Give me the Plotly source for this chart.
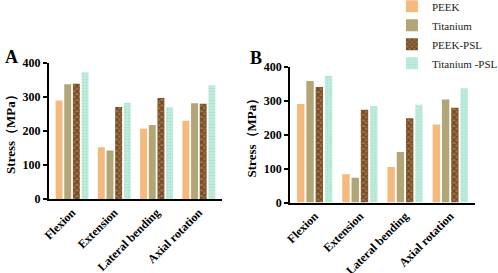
import plotly.graph_objects as go

categories = ["Flexion", "Extension", "Lateral bending", "Axial rotation"]
series_names = ["PEEK", "Titanium", "PEEK-PSL", "Titanium -PSL"]

a_peek = [290, 152, 207, 230]
a_titanium = [338, 143, 218, 282]
a_peek_psl = [339, 271, 297, 280]
a_titanium_psl = [373, 283, 270, 335]

b_peek = [290, 83, 105, 230]
b_titanium = [358, 73, 149, 303]
b_peek_psl = [340, 273, 248, 279]
b_titanium_psl = [373, 284, 288, 336]

y_ticks = [0, 100, 200, 300, 400]

styles = [
    dict(color="#F6B97C"),
    dict(color="#B3A676"),
    dict(color="#7A5532", pattern=dict(shape="x", fgcolor="#2E1C0C", bgcolor="#A2703F", size=4, solidity=0.5)),
    dict(color="#A9E3D3", pattern=dict(shape=".", fgcolor="#8CD5BF", bgcolor="#CDEFE5", size=3, solidity=0.6)),
]

fig = go.Figure()
panel_a = [a_peek, a_titanium, a_peek_psl, a_titanium_psl]
panel_b = [b_peek, b_titanium, b_peek_psl, b_titanium_psl]
for i, (name, vals) in enumerate(zip(series_names, panel_a)):
    fig.add_trace(go.Bar(x=categories, y=vals, name=name, marker=dict(line=dict(width=0), **styles[i]),
                         xaxis="x", yaxis="y", showlegend=True, legendgroup=name))
for i, (name, vals) in enumerate(zip(series_names, panel_b)):
    fig.add_trace(go.Bar(x=categories, y=vals, name=name, marker=dict(line=dict(width=0), **styles[i]),
                         xaxis="x2", yaxis="y2", showlegend=False, legendgroup=name))

font_serif = "Liberation Serif"
xaxis_common = dict(showline=True, linecolor="black", linewidth=1.6, ticks="", showgrid=False, automargin=False,
                    tickangle=-45, tickfont=dict(family=font_serif, size=12, color="black", weight="bold"),
                    range=[-0.55, 3.55], zeroline=False)
yaxis_common = dict(showline=True, linecolor="black", linewidth=1.6, ticks="outside", ticklen=4, tickwidth=1.6,
                    tickcolor="black", showgrid=False, range=[0, 400], tickvals=y_ticks, zeroline=False, automargin=False,
                    tickfont=dict(family=font_serif, size=12, color="black", weight="bold"),
                    title=dict(text="Stress（MPa）", font=dict(family=font_serif, size=13, color="black", weight="bold"), standoff=4))

fig.update_layout(
    width=498, height=273,
    margin=dict(l=0, r=0, t=0, b=0, autoexpand=False),
    paper_bgcolor="white", plot_bgcolor="white",
    barmode="group", bargap=0.18, bargroupgap=0.2,
    xaxis=dict(domain=[0.098, 0.446], anchor="y", **xaxis_common),
    yaxis=dict(domain=[0.271, 0.769], anchor="x", **yaxis_common),
    xaxis2=dict(domain=[0.582, 0.954], anchor="y2", **xaxis_common),
    yaxis2=dict(domain=[0.258, 0.756], anchor="x2", **yaxis_common),
    legend=dict(x=0.787, y=1.03, xanchor="left", yanchor="top", bgcolor="rgba(0,0,0,0)",
                font=dict(family=font_serif, size=11, color="#222"), tracegroupgap=0, itemwidth=30),
    showlegend=True,
    annotations=[
        dict(text="<b>A</b>", x=0.006, y=0.791, xref="paper", yref="paper", xanchor="left", yanchor="middle",
             showarrow=False, font=dict(family=font_serif, size=18, color="black")),
        dict(text="<b>B</b>", x=0.498, y=0.789, xref="paper", yref="paper", xanchor="left", yanchor="middle",
             showarrow=False, font=dict(family=font_serif, size=18, color="black")),
    ],
)

fig.write_html("out.html", config={"displayModeBar": False},
               post_script="document.body.style.margin='0';document.body.style.overflow='hidden';")
